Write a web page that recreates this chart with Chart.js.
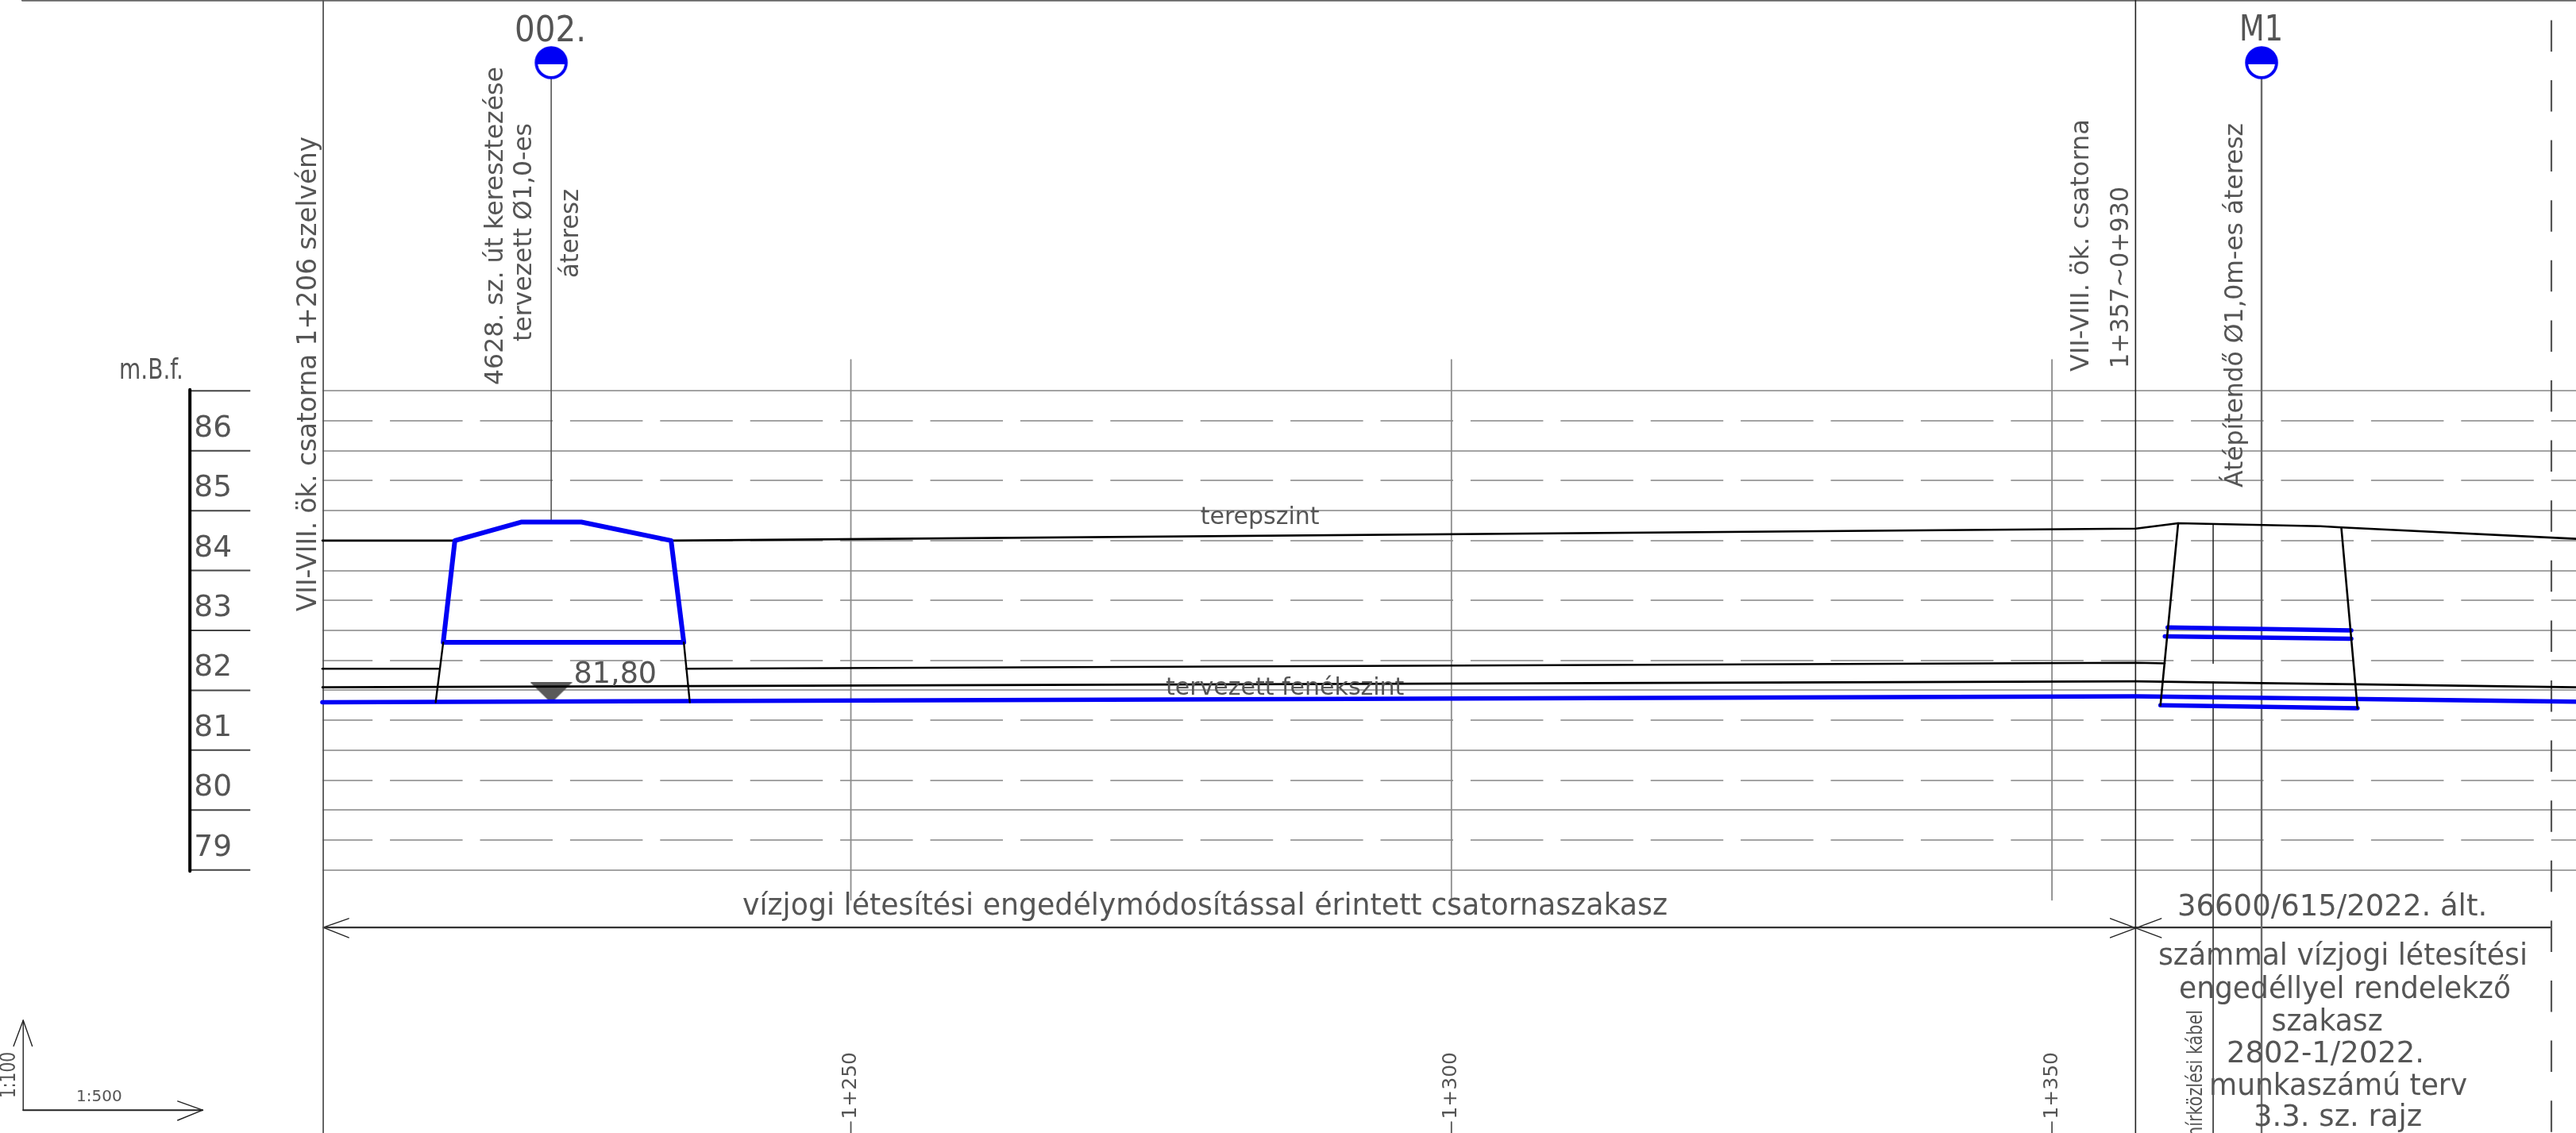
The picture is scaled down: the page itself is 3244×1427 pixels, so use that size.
<!DOCTYPE html>
<html lang="hu">
<head>
<meta charset="utf-8">
<title>Hossz-szelvény</title>
<script src="https://cdn.jsdelivr.net/npm/chart.js@4/dist/chart.umd.min.js"></script>
<style>html,body{margin:0;padding:0;background:#fff;overflow:hidden}canvas{display:block}</style>
</head>
<body>
<canvas id="c" width="3244" height="1427"></canvas>
<script>
// ---- Scale definitions: stations (m) and elevations (m.B.f.)
const elevationTicks = [79,79.5,80,80.5,81,81.5,82,82.5,83,83.5,84,84.5,85,85.5,86,86.5,87];
const rulerLevels = [79,80,81,82,83,84,85,86,87];
const stationTicks = [1250,1300,1350];
const stationLabels = ['1+250','1+300','1+350'];

// ---- Profile lines
const terrainAX = [1206,1217.03];                      const terrainAY = [84.50,84.50];
const terrainBX = [1235.03,1357,1360.51,1372.35,1374.09,1393.63];
const terrainBY = [84.50,84.70,84.79,84.74,84.72,84.53];
const existingAX = [1206,1215.66];                     const existingAY = [82.36,82.36];
const existingBX = [1236.29,1357,1359.39];             const existingBY = [82.36,82.46,82.45];
const plannedThinX = [1206,1357,1367.45,1375.44,1393.63]; const plannedThinY = [82.05,82.15,82.12,82.10,82.05];
const plannedBedX = [1206,1357,1393.63];               const plannedBedY = [81.80,81.90,81.81];

// ---- Culvert 002
const culvert002X = [1216.06,1217.03,1222.60,1227.56,1235.03,1236.09,1216.06];
const culvert002Y = [82.80,84.50,84.81,84.81,84.50,82.80,82.80];
const wing002LX = [1216.06,1215.43];                   const wing002LY = [82.80,81.80];
const wing002RX = [1236.09,1236.59];                   const wing002RY = [82.80,81.80];

// ---- Culvert M1
const m1TopX = [1359.63,1374.92];                      const m1TopY = [83.05,83.00];
const m1MidX = [1359.40,1374.92];                      const m1MidY = [82.90,82.86];
const m1BotX = [1359.03,1375.44];                      const m1BotY = [81.75,81.70];
const m1WingLX = [1360.51,1359.03];                    const m1WingLY = [84.79,81.75];
const m1WingRX = [1374.09,1375.44];                    const m1WingRY = [84.72,81.70];

// ---- Vertical reference lines
const fullVerticals = [1206.07,1356.96];
const stationStubY = [74.79,74.61];
const gridVerticalY = [87.52,78.50];
const marker002X = [1225.05];                          const marker002Y = [92.48];
const markerM1X = [1367.45];                           const markerM1Y = [92.48];
const stem002Y = [92.21,84.85];
const stemM1Y = [92.21,74.61];
const cableX = 1363.42;
const cableUpperY = [84.78,82.45];                     const cableLowerY = [82.14,74.61];
const limitX = 1391.58;                                const limitY = [93.19,74.61];
const waterX = [1225.05];                              const waterY = [81.96];

// ---- Dimension line, arrowheads, scale bar
const dimX = [1206.07,1391.58];                        const dimY = [78.04,78.04];
const dimHeadX = [1208.19,1206.07,1208.19];            const dimHeadY = [78.19,78.04,77.87];
const crossAX = [1354.86,1359.10];                     const crossAY = [78.19,77.87];
const crossBX = [1354.86,1359.10];                     const crossBY = [77.87,78.19];
const barVX = [1181.09,1181.09];                       const barVY = [76.49,74.99];
const barVHeadX = [1180.29,1181.09,1181.84];           const barVHeadY = [76.06,76.49,76.06];
const barHX = [1181.09,1196.03];                       const barHY = [74.99,74.99];
const barHHeadX = [1193.95,1196.03,1193.95];           const barHHeadY = [75.14,74.99,74.82];
const rulerSpineX = [1194.97,1194.97];                 const rulerSpineY = [87.02,78.98];
const rulerTickX = [1194.97,1200];
const topEdgeX = [1181.02,1393.63];                    const topEdgeY = [93.52,93.52];

// ---- Text
const unitLabel = 'm.B.f.';
const name002 = '002.';
const nameM1 = 'M1';
const terrainLabel = 'terepszint';
const bedLabel = 'tervezett fenékszint';
const waterLabel = '81,80';
const spanLabel = 'vízjogi létesítési engedélymódosítással érintett csatornaszakasz';
const permitLines = ['36600/615/2022. ált.','számmal vízjogi létesítési','engedéllyel rendelekző','szakasz','2802-1/2022.','munkaszámú terv','3.3. sz. rajz'];
const startLabel = 'VII-VIII. ök. csatorna 1+206 szelvény';
const crossing002 = ['4628. sz. út keresztezése','tervezett Ø1,0-es','áteresz'];
const endLabels = ['VII-VIII. ök. csatorna','1+357~0+930'];
const m1Label = 'Átépítendő Ø1,0m-es áteresz';
const cableLabel = 'hírközlési kábel';
const scaleV = '1:100';
const scaleH = '1:500';

// ---- Styles and helpers
const FONT = '"DejaVu Sans"';
const TXT = '#555555';
const GRID = '#a3a3a3';
const BLUE = '#0000f5';
const zip = (xs,ys) => xs.map((x,i)=>({x,y:ys[i]}));
const line = (xs,ys,color,width,extra) => Object.assign({
  data: zip(xs,ys), borderColor: color, backgroundColor: color, borderWidth: width,
  showLine: true, pointRadius: 0, tension: 0, clip: false, fill: false,
  borderJoinStyle: 'round', borderCapStyle: 'round'
}, extra||{});
function halfCircle(){
  const c=document.createElement('canvas');c.width=46;c.height=46;
  const g=c.getContext('2d');const m=23,r=18.9;
  g.fillStyle='#fff';g.beginPath();g.arc(m,m,r,0,Math.PI*2);g.fill();
  g.fillStyle=BLUE;g.beginPath();g.arc(m,m,r,Math.PI,0);g.lineTo(m+r,m+2);g.lineTo(m-r,m+2);g.closePath();g.fill();
  g.strokeStyle=BLUE;g.lineWidth=3.8;g.beginPath();g.arc(m,m,r,0,Math.PI*2);g.stroke();
  return c;
}
function waterTriangle(){
  const c=document.createElement('canvas');c.width=53;c.height=26;
  const g=c.getContext('2d');g.fillStyle='#5a5a5a';
  g.beginPath();g.moveTo(0,0);g.lineTo(53,0);g.lineTo(26.5,26);g.closePath();g.fill();
  return c;
}
const marker = (xs,ys,img) => ({data:zip(xs,ys),showLine:false,pointStyle:img,pointRadius:20,pointHoverRadius:20,clip:false});

const datasets = [
  marker(marker002X,marker002Y,halfCircle()),
  marker(markerM1X,markerM1Y,halfCircle()),
  line(m1WingLX,m1WingLY,'#000',2.6),
  line(m1WingRX,m1WingRY,'#000',2.6),
  line(wing002LX,wing002LY,'#000',2.4),
  line(wing002RX,wing002RY,'#000',2.4),
  line(culvert002X,culvert002Y,BLUE,6),
  line(m1TopX,m1TopY,BLUE,5.5),
  line(m1MidX,m1MidY,BLUE,5.5),
  line(m1BotX,m1BotY,BLUE,5.5),
  line(plannedBedX,plannedBedY,BLUE,5.6),
  line(terrainAX,terrainAY,'#000',2.6),
  line(terrainBX,terrainBY,'#000',2.6),
  line(existingAX,existingAY,'#000',2.6),
  line(existingBX,existingBY,'#000',2.6),
  line(plannedThinX,plannedThinY,'#000',2.6),
  marker(waterX,waterY,waterTriangle()),
  line(fullVerticals.slice(0,1).concat(fullVerticals.slice(0,1)),[93.52,74.61],'#555',1.8),
  line(fullVerticals.slice(1).concat(fullVerticals.slice(1)),[93.52,74.61],'#222',1.6),
  ...stationTicks.map(s=>line([s,s],gridVerticalY,'#8c8c8c',1.8)),
  ...stationTicks.map(s=>line([s,s],stationStubY,'#555',1.8)),
  line([marker002X[0],marker002X[0]],stem002Y,'#555',1.6),
  line([markerM1X[0],markerM1X[0]],stemM1Y,'#6a6a6a',2.4),
  line([cableX,cableX],cableUpperY,'#222',1.5),
  line([cableX,cableX],cableLowerY,'#222',1.5),
  line([limitX,limitX],limitY,'#555',2.2,{borderDash:[39.5,36.1],borderCapStyle:'butt'}),
  line(dimX,dimY,'#333',2.2),
  line(dimHeadX,dimHeadY,'#222',1.4),
  line(crossAX,crossAY,'#222',1.4),
  line(crossBX,crossBY,'#222',1.4),
  line(barVX,barVY,'#222',1.4),
  line(barVHeadX,barVHeadY,'#222',1.4),
  line(barHX,barHY,'#222',2),
  line(barHHeadX,barHHeadY,'#222',1.4),
  line(rulerSpineX,rulerSpineY,'#000',4,{borderCapStyle:'butt'}),
  ...rulerLevels.map(l=>line(rulerTickX,[l,l],'#444',2,{borderCapStyle:'butt'})),
  line(topEdgeX,topEdgeY,'#666',2.4),
];

const textPlugin = {
  id:'drawingText',
  afterDatasetsDraw(chart){
    const g=chart.ctx;
    const h=(t,x,y,size,w,align)=>{g.save();g.font=size+'px '+FONT;g.fillStyle=TXT;g.textAlign=align||'left';g.textBaseline='alphabetic';g.fillText(t,x,y,w);g.restore();};
    const v=(t,x,y,size,w,align)=>{g.save();g.translate(x,y);g.rotate(-Math.PI/2);g.font=size+'px '+FONT;g.fillStyle=TXT;g.textAlign=align||'left';g.textBaseline='alphabetic';g.fillText(t,0,0,w);g.restore();};
    h(unitLabel,150,476.5,36,81);
    h(name002,648,52,44,90);
    h(nameM1,2820,51,44,55);
    h(terrainLabel,1511.7,660,30,155);
    h(bedLabel,1468,875,30,309);
    h(waterLabel,722.6,860,36.5,104.6);
    h(spanLabel,935,1152,37,1165);
    h(permitLines[0],2742,1153,37,391.5);
    h(permitLines[1],2718,1215,37,465);
    h(permitLines[2],2744,1257,37,418);
    h(permitLines[3],2860.6,1298,37,140);
    h(permitLines[4],2804,1338,37,249);
    h(permitLines[5],2782,1379,37,325);
    h(permitLines[6],2838,1418,37,215);
    h(scaleH,96,1387,20,61.6);
    v(startLabel,398,770,34,598);
    v(crossing002[0],632.7,485,32,401);
    v(crossing002[1],669,430,32,275);
    v(crossing002[2],728,350,32,112);
    v(endLabels[0],2630,468,32,336);
    v(endLabels[1],2680,464,32,229);
    v(m1Label,2824,614,32,459);
    v(cableLabel,2773,1272,26,160,'right');
    v(scaleV,19,1383,26,58);
  }
};

const noAxisPadding = s => {s.paddingTop=0;s.paddingBottom=0;s.paddingLeft=0;s.paddingRight=0;};

new Chart(document.getElementById('c'),{
  type:'scatter',
  data:{datasets},
  plugins:[textPlugin],
  options:{
    responsive:false,animation:false,devicePixelRatio:1,
    layout:{autoPadding:false,padding:{top:2,left:0,right:0,bottom:0}},
    plugins:{legend:{display:false},tooltip:{enabled:false},title:{display:false}},
    events:[],
    scales:{
      x:{
        type:'linear',position:'bottom',bounds:'data',
        afterDataLimits:s=>{s.min=1206;s.max=1393.63;},
        afterBuildTicks:s=>{s.ticks=stationTicks.map(value=>({value}));},
        afterFit:s=>{s.height=105;noAxisPadding(s);},
        grid:{display:false,drawTicks:false},border:{display:false},
        ticks:{autoSkip:false,minRotation:90,maxRotation:90,padding:3,color:TXT,
          font:{family:'DejaVu Sans',size:25},
          callback:v=>stationLabels[stationTicks.indexOf(v)]}
      },
      y:{
        type:'linear',position:'left',bounds:'data',min:76,max:93.5,
        afterBuildTicks:s=>{s.ticks=elevationTicks.map(value=>({value}));},
        afterFit:s=>{s.width=406;noAxisPadding(s);},
        border:{display:false,dash:c=>c.tick&&c.tick.value%1?[91.5,21.9]:[],dashOffset:28.3},
        grid:{color:GRID,lineWidth:2,drawTicks:false,tickLength:0},
        ticks:{autoSkip:false,padding:114,labelOffset:10,color:TXT,
          font:{family:'DejaVu Sans',size:37.5},
          callback:v=>v%1?String(Math.floor(v)):''}
      }
    }
  }
});
</script>
</body>
</html>
